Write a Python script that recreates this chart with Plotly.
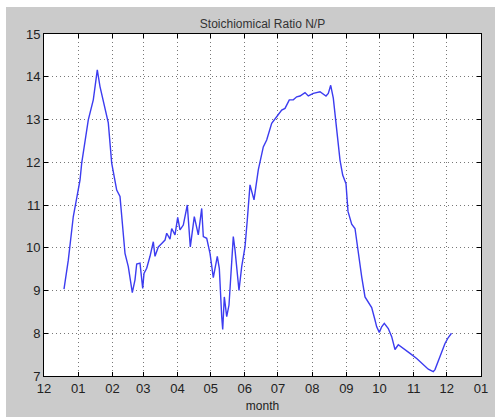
import pandas as pd
import plotly.graph_objects as go

# Day offsets relative to 1 Jan of the plotted year (negative = previous December)
day = [-12.88, -8.98, -4.45, -2.91, 1.62, 3.16, 6.15, 9.14, 13.67, 16.76, 17.30,
       19.75, 24.28, 27.27, 30.35, 34.88, 37.87, 42.40, 45.39, 49.02, 51.46, 53.0,
       55.99, 58.44, 59.62, 62.06, 65.06, 68.05, 69.59, 72.58, 75.66, 78.65, 80.19,
       83.18, 84.72, 87.71, 90.16, 92.24, 95.23, 98.86, 101.57, 105.20, 108.82,
       111.91, 113.36, 116.44, 119.43, 122.42, 126.04, 127.86, 130.03, 130.94,
       132.39, 134.56, 136.64, 140.54, 142.08, 145.70, 148.15, 151.14, 153.22,
       155.67, 159.30, 163.19, 167.72, 170.80, 175.33, 179.86, 184.40, 187.39,
       191.28, 194.91, 197.99, 200.98, 205.51, 208.50, 213.03, 219.10, 221.55,
       224.54, 226.63, 228.80, 231.16, 234.24, 237.23, 239.67, 242.66, 244.48,
       247.83, 250.82, 252.64, 255.35, 256.89, 259.88, 262.87, 265.95, 268.94,
       270.48, 272.84, 275.01, 277.37, 280.99, 284.07, 287.06, 290.05, 294.59,
       300.66, 306.73, 312.71, 317.24, 320.32, 321.77, 323.31, 327.84, 332.37,
       335.36, 338.26]
ratio = [9.03, 9.71, 10.73, 10.96, 11.58, 11.98, 12.52, 12.99, 13.46, 14.12, 14.16,
         13.77, 13.30, 12.92, 11.98, 11.35, 11.20, 9.87, 9.56, 8.95, 9.25, 9.62,
         9.64, 9.05, 9.40, 9.52, 9.80, 10.14, 9.80, 10.02, 10.10, 10.18, 10.34,
         10.20, 10.45, 10.30, 10.71, 10.42, 10.53, 11.00, 10.02, 10.73, 10.30,
         10.92, 10.26, 10.22, 9.87, 9.30, 9.80, 9.52, 8.39, 8.09,
         8.85, 8.39, 8.66, 10.26, 9.95, 9.00, 9.56, 10.02, 10.65,
         11.47, 11.12, 11.82, 12.36, 12.52, 12.91, 13.07, 13.22, 13.26,
         13.46, 13.46, 13.53, 13.55, 13.63, 13.55, 13.61, 13.65, 13.61,
         13.55, 13.61, 13.80, 13.50, 12.83, 12.05, 11.70, 11.50, 10.85,
         10.55, 10.45, 10.10, 9.70, 9.32, 8.85, 8.74, 8.60, 8.31,
         8.15, 8.02, 8.15, 8.23, 8.11, 7.92, 7.62, 7.73, 7.65,
         7.53, 7.41, 7.28, 7.16, 7.12, 7.10, 7.15, 7.45, 7.76,
         7.90, 8.00]

base = pd.Timestamp("2003-01-01")
dates = [base + pd.Timedelta(days=d) for d in day]

title_text = "Stoichiomical Ratio N/P"
xlabel = "month"
y_ticks = [7, 8, 9, 10, 11, 12, 13, 14, 15]

W, H = 495, 417
L, R, T, B = 44, 14, 34, 41
pw, ph = W - L - R, H - T - B

fig = go.Figure()
fig.add_trace(go.Scatter(x=dates, y=ratio, mode="lines",
                         line=dict(color="#3c3cf0", width=1.4), showlegend=False))

gray = "#cbcbcb"
fig.update_layout(
    width=W, height=H,
    margin=dict(l=L, r=R, t=T, b=B, autoexpand=False),
    paper_bgcolor=gray, plot_bgcolor="white",
    font=dict(family="Liberation Sans, Arial, sans-serif", color="#222"),
    title=dict(text=title_text, x=0.5, xref="paper", xanchor="center",
               y=(H - 24) / H, yref="container", yanchor="middle",
               font=dict(size=12, color="#333"), automargin=False),
    shapes=[
        dict(type="rect", xref="paper", yref="paper", x0=-L / pw, x1=(W - L) / pw,
             y0=1 + (T - 7) / ph, y1=1 + T / ph + 0.01, fillcolor="white",
             line=dict(width=0), layer="below"),
        dict(type="rect", xref="paper", yref="paper", x0=-L / pw - 0.01, x1=-(L - 6) / pw,
             y0=-B / ph - 0.01, y1=1 + T / ph + 0.01, fillcolor="white",
             line=dict(width=0), layer="below"),
    ],
)
fig.update_xaxes(
    type="date", automargin=False,
    range=["2002-12-01", "2004-01-01"],
    tick0="2002-12-01", dtick="M1", tickformat="%m",
    showgrid=True, gridcolor="#777", griddash="1px,3px", gridwidth=1,
    showline=True, linecolor="black", linewidth=1, mirror="allticks",
    ticks="inside", ticklen=4, tickcolor="black",
    tickfont=dict(size=13, color="#222"),
    title=dict(text=xlabel, font=dict(size=12, color="#222"), standoff=7),
    zeroline=False,
)
fig.update_yaxes(
    range=[7, 15], tickvals=y_ticks, automargin=False,
    showgrid=True, gridcolor="#777", griddash="1px,3px", gridwidth=1,
    showline=True, linecolor="black", linewidth=1, mirror="allticks",
    ticks="inside", ticklen=4, tickcolor="black",
    tickfont=dict(size=13, color="#222"),
    zeroline=False,
)
fig.write_html("out.html", config={"displayModeBar": False},
               post_script="document.body.style.margin='0';document.body.style.overflow='hidden';")
